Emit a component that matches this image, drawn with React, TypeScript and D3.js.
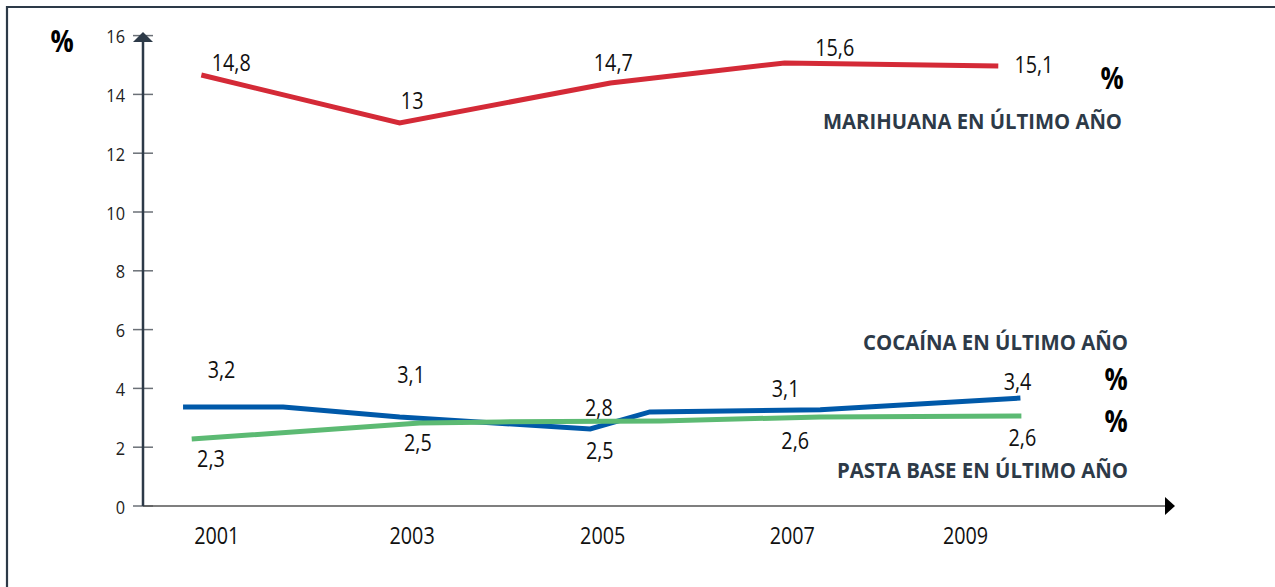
import React from "react";
import * as d3 from "d3";

// ---- Data ----
const yTicks = [0, 2, 4, 6, 8, 10, 12, 14, 16];
const yearLabels = ["2001", "2003", "2005", "2007", "2009"];
const yearLabelPos = [2001.07, 2003.1, 2005.08, 2007.05, 2008.85];

const marihuanaX = [2000.91, 2002.97, 2005.16, 2006.97, 2009.19];
const marihuanaY = [14.66, 13.03, 14.39, 15.07, 14.97];
const marihuanaLabels = ["14,8", "13", "14,7", "15,6", "15,1"];
const marihuanaLabelX = [2001.22, 2003.1, 2005.19, 2007.49, 2009.56];
const marihuanaLabelY = [15.1, 13.81, 15.1, 15.61, 15.03];

const cocainaX = [2000.72, 2001.76, 2002.97, 2004.95, 2005.57, 2007.34, 2009.42];
const cocainaY = [3.37, 3.37, 3.03, 2.62, 3.2, 3.27, 3.67];
const cocainaLabels = ["3,2", "3,1", "2,8", "3,1", "3,4"];
const cocainaLabelX = [2001.12, 2003.09, 2005.04, 2006.98, 2009.39];
const cocainaLabelY = [4.66, 4.49, 3.37, 4.01, 4.25];

const pastaX = [2000.81, 2003.18, 2004.01, 2005.68, 2007.34, 2009.43];
const pastaY = [2.28, 2.82, 2.86, 2.89, 3.03, 3.06];
const pastaLabels = ["2,3", "2,5", "2,5", "2,6", "2,6"];
const pastaLabelX = [2001.01, 2003.16, 2005.05, 2007.08, 2009.44];
const pastaLabelY = [1.63, 2.18, 1.9, 2.24, 2.35];

const seriesNames = ["MARIHUANA EN ÚLTIMO AÑO", "COCAÍNA EN ÚLTIMO AÑO", "PASTA BASE EN ÚLTIMO AÑO"];

// ---- Styles ----
const W = 1275;
const H = 587;
const RED = "#d42a37";
const BLUE = "#0059a9";
const GREEN = "#5cba73";
const DARK = "#2d3a48";
const FONT = "'Open Sans', sans-serif";
const SQUEEZE = 0.86;

function CText(props: {
  x: number;
  y: number;
  size: number;
  anchor?: string;
  fill?: string;
  weight?: string;
  children: React.ReactNode;
}) {
  const { x, y, size, anchor = "middle", fill = "#111", weight = "normal", children } = props;
  return (
    <g transform={`translate(${x},${y}) scale(${SQUEEZE},1)`}>
      <text
        x={0}
        y={0}
        textAnchor={anchor as any}
        dominantBaseline="central"
        fontFamily={FONT}
        fontSize={size}
        fontWeight={weight}
        fill={fill}
      >
        {children}
      </text>
    </g>
  );
}

export default function App() {
  const x = d3.scaleLinear().domain([2000, 2010]).range([113.75, 1076.25]);
  const y = d3.scaleLinear().domain([0, 16]).range([506, 35.6]);
  const axisX = x(2000) + 29.25; // 143
  const xEnd = 1165;

  const line = d3
    .line<[number, number]>()
    .x((d) => x(d[0]))
    .y((d) => y(d[1]));

  const zip = (a: number[], b: number[]) => a.map((v, i) => [v, b[i]] as [number, number]);

  const series = [
    { xs: marihuanaX, ys: marihuanaY, color: RED, labels: marihuanaLabels, lx: marihuanaLabelX, ly: marihuanaLabelY },
    { xs: cocainaX, ys: cocainaY, color: BLUE, labels: cocainaLabels, lx: cocainaLabelX, ly: cocainaLabelY },
    { xs: pastaX, ys: pastaY, color: GREEN, labels: pastaLabels, lx: pastaLabelX, ly: pastaLabelY },
  ];

  const legendPos = [
    { xr: 1122, yc: 121, x0: 823 },
    { xr: 1128, yc: 342, x0: 863 },
    { xr: 1128, yc: 470, x0: 837 },
  ];

  return (
    <svg width={W} height={H} style={{ position: "absolute", left: 0, top: 0, background: "#fff" }}>
      {/* frame */}
      <line x1={7} y1={7} x2={W} y2={7} stroke={DARK} strokeWidth={2} />
      <line x1={7} y1={6} x2={7} y2={H} stroke={DARK} strokeWidth={2.2} />

      {/* y ticks */}
      {yTicks.map((t) => (
        <g key={t}>
          <line x1={axisX - 10} x2={axisX + 10} y1={y(t)} y2={y(t)} stroke="#6b7077" strokeWidth={1.5} />
          <CText x={axisX - 18} y={y(t)} size={19} anchor="end" fill="#222">
            {t}
          </CText>
        </g>
      ))}

      {/* x axis */}
      <line x1={axisX} x2={xEnd} y1={y(0)} y2={y(0)} stroke="#555" strokeWidth={1.6} />
      <path d={`M${xEnd},${y(0) - 9}L${xEnd + 10},${y(0)}L${xEnd},${y(0) + 9}Z`} fill="#000" />

      {/* y axis */}
      <line x1={axisX} x2={axisX} y1={y(0)} y2={40} stroke={DARK} strokeWidth={2.5} />
      <path d={`M${axisX - 10},${42}L${axisX},${32}L${axisX + 10},${42}Z`} fill={DARK} />

      {/* year labels */}
      {yearLabels.map((l, i) => (
        <CText key={l} x={x(yearLabelPos[i])} y={535} size={23}>
          {l}
        </CText>
      ))}

      {/* lines */}
      {series.map((s, i) => (
        <path
          key={i}
          d={line(zip(s.xs, s.ys)) || ""}
          fill="none"
          stroke={s.color}
          strokeWidth={5}
          strokeLinejoin="miter"
        />
      ))}

      {/* value labels */}
      {series.map((s, i) =>
        s.labels.map((l, j) => (
          <CText key={`${i}-${j}`} x={x(s.lx[j])} y={y(s.ly[j])} size={23}>
            {l}
          </CText>
        ))
      )}

      {/* series names */}
      {seriesNames.map((n, i) => (
        <text
          key={n}
          x={legendPos[i].x0}
          y={legendPos[i].yc}
          dominantBaseline="central"
          fontFamily={FONT}
          fontWeight="bold"
          fontSize={21}
          fill={DARK}
          textLength={legendPos[i].xr - legendPos[i].x0}
          lengthAdjust="spacingAndGlyphs"
        >
          {n}
        </text>
      ))}

      {/* percent signs */}
      <CText x={62} y={40} size={30} weight="bold" fill="#000">%</CText>
      <CText x={1112} y={77} size={30} weight="bold" fill="#000">%</CText>
      <CText x={1116} y={378} size={30} weight="bold" fill="#000">%</CText>
      <CText x={1116} y={420} size={30} weight="bold" fill="#000">%</CText>
    </svg>
  );
}
